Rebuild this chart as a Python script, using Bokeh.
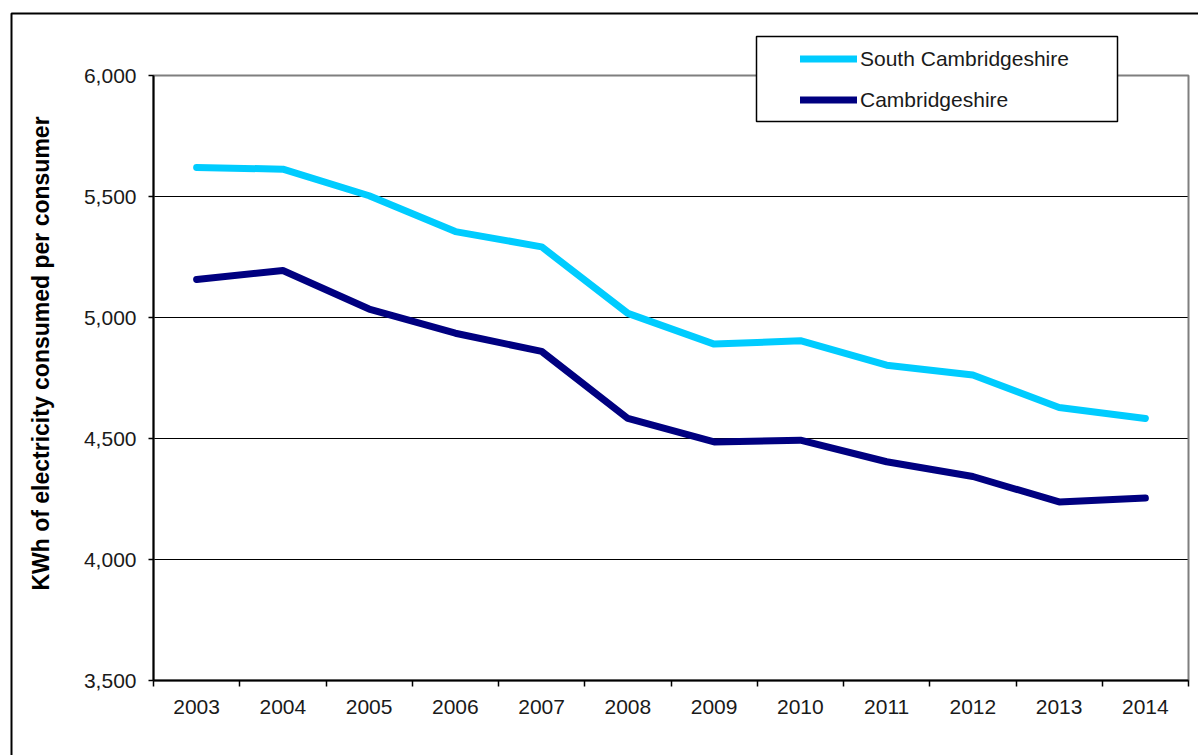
import math
from bokeh.plotting import figure
from bokeh.models import (FixedTicker, NumeralTickFormatter, BoxAnnotation, Legend,
                          LegendItem, Label, Range1d)
from bokeh.embed import file_html
from bokeh.resources import INLINE

# ---- data ----
years = [2003, 2004, 2005, 2006, 2007, 2008, 2009, 2010, 2011, 2012, 2013, 2014]
south_cambs = [5620, 5613, 5503, 5355, 5292, 5017, 4890, 4904, 4803, 4762, 4628, 4583]
cambs = [5157, 5194, 5035, 4935, 4860, 4583, 4486, 4493, 4404, 4343, 4238, 4254]
y_ticks = [3500, 4000, 4500, 5000, 5500, 6000]
series_names = ["South Cambridgeshire", "Cambridgeshire"]
y_title = "KWh of electricity consumed per consumer"

FONT = "Liberation Sans"
LIGHT = "#00CCFF"
DARK = "#000080"

# ---- layout (pixels on the canvas) ----
W, H = 1198, 755
PLOT_L, PLOT_R = 153, 1188     # plot-area edges
PLOT_T, PLOT_B = 75, 680

x_lo, x_hi = years[0] - 0.5, years[-1] + 0.5
y_lo, y_hi = y_ticks[0], y_ticks[-1]
sx = (PLOT_R - PLOT_L) / (x_hi - x_lo)
sy = (PLOT_B - PLOT_T) / (y_hi - y_lo)

p = figure(width=W, height=H, output_backend="svg", toolbar_location=None,
           x_range=Range1d(x_lo - PLOT_L / sx, x_hi + (W - PLOT_R) / sx),
           y_range=Range1d(y_lo - (H - PLOT_B) / sy, y_hi + PLOT_T / sy),
           min_border=0)
p.background_fill_color = "white"
p.border_fill_color = "white"
p.outline_line_color = None

# grid
p.xgrid.visible = False
grid = p.ygrid[0]
grid.ticker = FixedTicker(ticks=y_ticks)
grid.grid_line_color = "#000000"
grid.grid_line_width = 1
if "cross_bounds" in grid.properties():
    grid.cross_bounds = (x_lo, x_hi)
else:
    grid.visible = False
    p.segment(x0=[x_lo] * len(y_ticks), x1=[x_hi] * len(y_ticks), y0=y_ticks, y1=y_ticks,
              line_color="#000000", line_width=1, level="underlay")

# plot-area frame (grey, top/right visible)
p.add_layout(BoxAnnotation(left=x_lo, right=x_hi, bottom=y_lo, top=y_hi,
                           fill_alpha=0, line_color="#7f7f7f", line_alpha=1,
                           line_width=2, level="underlay"))

# y axis
ya = p.yaxis[0]
ya.fixed_location = x_lo
ya.bounds = (y_lo, y_hi)
ya.ticker = FixedTicker(ticks=y_ticks)
ya.formatter = NumeralTickFormatter(format="0,0")
ya.axis_line_color = "#000000"
ya.axis_line_width = 2
ya.major_tick_out = 5
ya.major_tick_in = 0
ya.major_tick_line_color = "#000000"
ya.major_tick_line_width = 1.5
ya.minor_tick_line_color = None
ya.major_label_text_font = FONT
ya.major_label_text_font_size = "21px"
ya.major_label_text_color = "#1a1a1a"
ya.major_label_standoff = 12

# x axis
xa = p.xaxis[0]
xa.fixed_location = y_lo
xa.bounds = (x_lo, x_hi)
boundaries = [y - 0.5 for y in years] + [years[-1] + 0.5]
xa.ticker = FixedTicker(ticks=years, minor_ticks=boundaries)
xa.formatter = NumeralTickFormatter(format="0")
xa.axis_line_color = "#000000"
xa.axis_line_width = 2
xa.major_tick_out = 0
xa.major_tick_in = 0
xa.minor_tick_out = 6
xa.minor_tick_in = 0
xa.minor_tick_line_color = "#000000"
xa.minor_tick_line_width = 1.5
xa.major_label_text_font = FONT
xa.major_label_text_font_size = "21px"
xa.major_label_text_color = "#1a1a1a"
xa.major_label_standoff = 13

# lines
r1 = p.line(years, south_cambs, line_color=LIGHT, line_width=7,
            line_cap="round", line_join="round")
r2 = p.line(years, cambs, line_color=DARK, line_width=7,
            line_cap="round", line_join="round")

# y title
p.add_layout(Label(x=40, y=H - 353, x_units="screen", y_units="screen", text=y_title,
                   angle=math.pi / 2, text_align="center", text_baseline="middle",
                   text_font=FONT, text_font_style="bold", text_font_size="23px",
                   text_color="#000000"))

# legend box
p.add_layout(BoxAnnotation(left=756, right=1117, top=36, bottom=121,
                           left_units="canvas", right_units="canvas",
                           top_units="canvas", bottom_units="canvas",
                           fill_color="white", fill_alpha=1,
                           line_color="#000000", line_alpha=1, line_width=1.5,
                           level="annotation"))

legend = Legend(items=[LegendItem(label=series_names[0], renderers=[r1]),
                       LegendItem(label=series_names[1], renderers=[r2])],
                location=(800, H - 111.5), padding=0, spacing=17,
                glyph_width=57, glyph_height=21, label_height=21,
                label_standoff=3, border_line_alpha=0, background_fill_alpha=0,
                label_text_font=FONT, label_text_font_size="21px",
                label_text_color="#1a1a1a")
p.add_layout(legend)

# outer chart border
p.add_layout(BoxAnnotation(left=11, right=W + 40, top=13, bottom=H + 40,
                           left_units="canvas", right_units="canvas",
                           top_units="canvas", bottom_units="canvas",
                           fill_alpha=0, line_color="#000000", line_alpha=1,
                           line_width=2, level="overlay"))

open("out.html", "w").write(file_html(p, INLINE))
